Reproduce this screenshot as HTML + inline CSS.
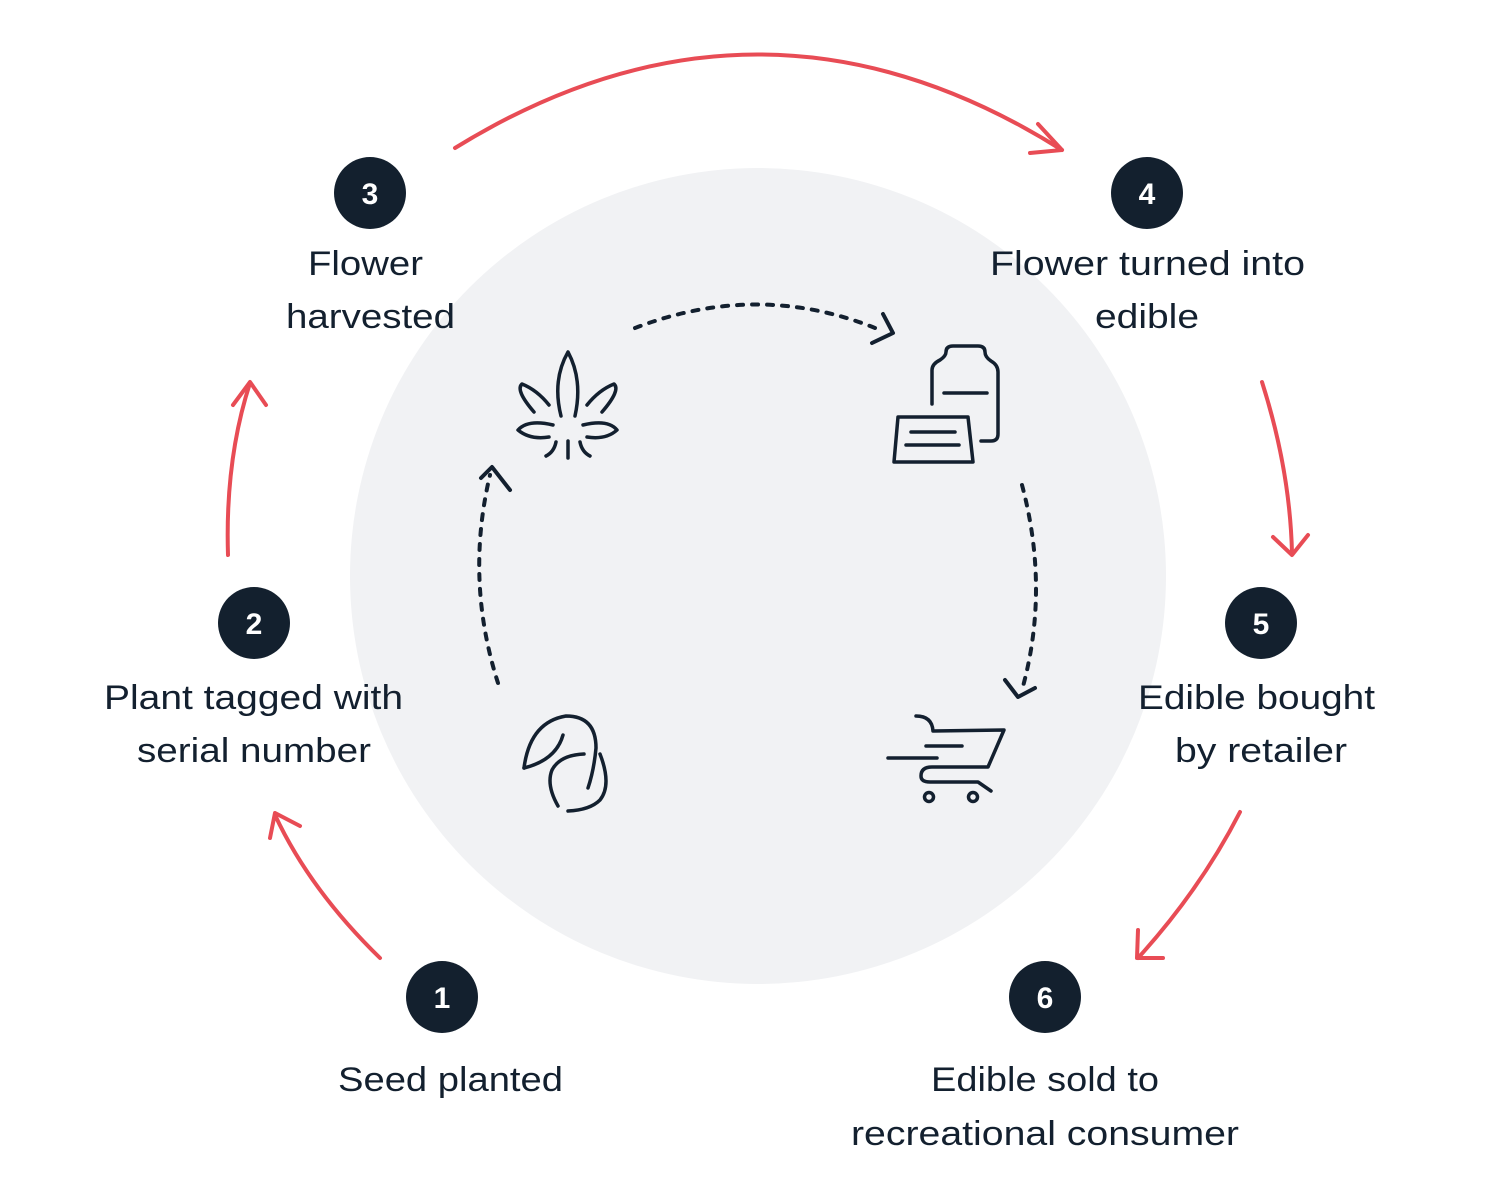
<!DOCTYPE html>
<html><head><meta charset="utf-8"><style>
html,body{margin:0;padding:0;background:#fff;}
svg{display:block}
text{font-family:"Liberation Sans",sans-serif;fill:#13202f;}
</style></head><body>
<svg width="1508" height="1200" viewBox="0 0 1508 1200" xmlns="http://www.w3.org/2000/svg">
<circle cx="758" cy="576" r="408" fill="#f1f2f4"/>
<g fill="none" stroke="#e84c55" stroke-width="4" stroke-linecap="round" stroke-linejoin="round">
<path d="M455 148 Q760 -40 1062 150"/><path d="M1038 124 L1062 150 L1030 153"/>
<path d="M380 958 Q310 890 275 815"/><path d="M270 838 L275 813 L300 826"/>
<path d="M228 555 Q225 460 250 383"/><path d="M233 405 L250 382 L266 405"/>
<path d="M1262 382 Q1290 470 1292 553"/><path d="M1273 537 L1292 555 L1308 535"/>
<path d="M1240 812 Q1200 890 1138 958"/><path d="M1138 930 L1137 958 L1163 958"/>
</g>
<g fill="none" stroke="#13202f" stroke-width="4" stroke-linecap="round" stroke-dasharray="6 9">
<path d="M635 328 Q760 280 880 330"/>
<path d="M1022 485 Q1050 590 1022 690"/>
<path d="M498 683 Q465 580 490 475"/>
</g>
<g fill="none" stroke="#13202f" stroke-width="4" stroke-linecap="round" stroke-linejoin="round">
<path d="M872 343 L893 333 L883 314"/>
<path d="M1005 680 L1018 697 L1035 688"/>
<path d="M481 478 L492 467 L510 490"/>
</g>
<g fill="none" stroke="#13202f" stroke-width="3.5" stroke-linecap="round" stroke-linejoin="round">
<path d="M561 416 Q552 380 568 352 Q583 380 575 416"/>
<path d="M534 412 Q515 390 522 384 Q537 390 549 405"/>
<path d="M602 412 Q621 390 614 384 Q599 390 587 405"/>
<path d="M553 425 Q528 419 518 430 Q530 440 549 437"/>
<path d="M583 425 Q608 419 617 430 Q606 440 587 437"/>
<path d="M568 441 L568 458"/><path d="M556 442 Q554 452 546 456"/><path d="M580 442 Q582 452 590 456"/>
<path d="M932 404 L932 370 Q932 364 940 360 Q946 356 946 352 Q946 346 953 346 L978 346 Q985 346 985 352 Q985 357 991 361 Q998 365 998 372 L998 434 Q998 441 991 441 L981 441"/>
<path d="M944 393 L987 393"/>
<path d="M898 417 L968 417 L973 462 L894 462 Z"/>
<path d="M911 432 L955 432"/><path d="M906 445 L959 445"/>
<path d="M524 768 Q530 722 566 716 Q596 716 596 748 Q594 770 588 788"/>
<path d="M524 768 Q556 760 563 735"/>
<path d="M584 754 Q560 755 552 770 Q546 785 558 806"/>
<path d="M600 754 Q612 785 600 800 Q590 810 568 811"/>
<path d="M916 716 Q932 716 933 731 L1004 730 L988 767 L932 767 Q921 767 921 776 Q921 782 930 782 L978 782 L991 791"/>
<path d="M926 746 L962 746"/><path d="M888 758 L937 758"/>
<circle cx="929" cy="797" r="4.5"/><circle cx="973" cy="797" r="4.5"/>
</g>
<g fill="#13202e">
<circle cx="370" cy="193" r="36"/><circle cx="1147" cy="193" r="36"/>
<circle cx="254" cy="623" r="36"/><circle cx="1261" cy="623" r="36"/>
<circle cx="442" cy="997" r="36"/><circle cx="1045" cy="997" r="36"/>
</g>
<g font-size="30" text-anchor="middle" style="font-weight:bold">
<text x="370" y="204" style="fill:#fff">3</text><text x="1147" y="204" style="fill:#fff">4</text>
<text x="254" y="634" style="fill:#fff">2</text><text x="1261" y="634" style="fill:#fff">5</text>
<text x="442" y="1008" style="fill:#fff">1</text><text x="1045" y="1008" style="fill:#fff">6</text>
</g>
<g font-size="34" lengthAdjust="spacingAndGlyphs">
<text x="308" y="275" textLength="115" lengthAdjust="spacingAndGlyphs">Flower</text>
<text x="286" y="328" textLength="169" lengthAdjust="spacingAndGlyphs">harvested</text>
<text x="990" y="275" textLength="315" lengthAdjust="spacingAndGlyphs">Flower turned into</text>
<text x="1095" y="328" textLength="104" lengthAdjust="spacingAndGlyphs">edible</text>
<text x="104" y="709" textLength="299" lengthAdjust="spacingAndGlyphs">Plant tagged with</text>
<text x="137" y="762" textLength="234" lengthAdjust="spacingAndGlyphs">serial number</text>
<text x="1138" y="709" textLength="237" lengthAdjust="spacingAndGlyphs">Edible bought</text>
<text x="1175" y="762" textLength="172" lengthAdjust="spacingAndGlyphs">by retailer</text>
<text x="338" y="1091" textLength="225" lengthAdjust="spacingAndGlyphs">Seed planted</text>
<text x="931" y="1091" textLength="228" lengthAdjust="spacingAndGlyphs">Edible sold to</text>
<text x="851" y="1145" textLength="388" lengthAdjust="spacingAndGlyphs">recreational consumer</text>
</g>
</svg>
</body></html>
